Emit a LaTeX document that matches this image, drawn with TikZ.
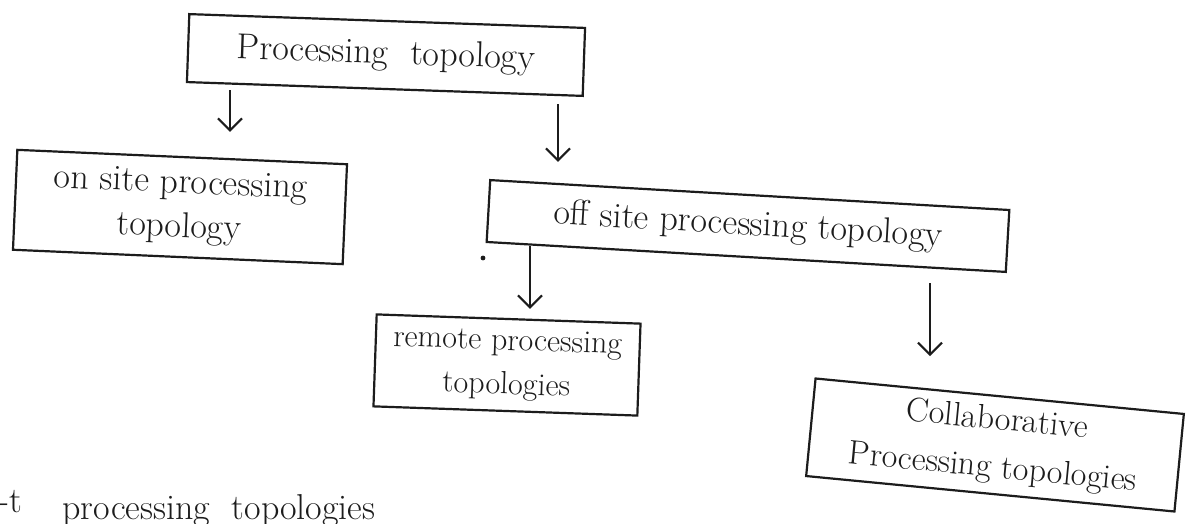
\documentclass[tikz,border=0pt]{standalone}
\usetikzlibrary{arrows.meta,calc}
\definecolor{ink}{HTML}{1C1C1C}
\begin{document}
\begin{tikzpicture}[x=0.5pt,y=-0.5pt,
  box/.style={draw=ink, line width=1.1pt, inner sep=0pt, align=center,
    text=ink, font=\fontsize{18}{22}\selectfont},
  arr/.style={draw=ink, line width=1.3pt,
    -{Straight Barb[length=6pt,width=12pt,line width=1.1pt]}},
  note/.style={text=ink, inner sep=0pt, font=\fontsize{18}{22}\selectfont}]
\clip (0,0) rectangle (1195,524);
\fill[white] (0,0) rectangle (1195,524);

% boxes of the hierarchy
\node[box, minimum width=198pt, minimum height=34pt, rotate=-2]
  (top) at (386,55) {Processing \ topology};
\node[box, minimum width=165pt, minimum height=50pt, rotate=-2.5]
  (onsite) at (180,207) {on site processing\\topology};
\node[box, minimum width=260pt, minimum height=31pt, rotate=-3.3]
  (offsite) at (748,226) {off site processing topology};
\node[box, minimum width=132pt, minimum height=46pt, rotate=-2,
  font=\fontsize{16}{22}\selectfont]
  (remote) at (507,365) {remote processing\\topologies};
\node[box, minimum width=185pt, minimum height=49pt, rotate=-5.5,
  font=\fontsize{17}{24}\selectfont]
  (collab) at (995,445) {Collaborative\\Processing topologies};

% vertical lines the arrows run along
\coordinate (xa) at (230,0);
\coordinate (xb) at (558,0);
\coordinate (xc) at (530,0);
\coordinate (xd) at (930,0);

\draw[arr, shorten <=0pt, shorten >=12pt] (top.south -| xa) -- (onsite.north -| xa);
\draw[arr, shorten <=7pt, shorten >=16pt] (top.south -| xb) -- (offsite.north -| xb);
\draw[arr, shorten <=-6pt, shorten >=4.5pt] (offsite.south -| xc) -- (remote.north -| xc);
\draw[arr, shorten <=12.5pt, shorten >=19.5pt] (offsite.south -| xd) -- (collab.north -| xd);

% stray pen dot
\fill[ink] (483,258) circle (1.2pt);

% start of the next line of text, running off the page edge
\node[note, anchor=base west] (cutA) at (-2,512) {-t};
\node[note, anchor=base west] (cutB) at (62,519) {processing \ topologies};
\end{tikzpicture}
\end{document}
